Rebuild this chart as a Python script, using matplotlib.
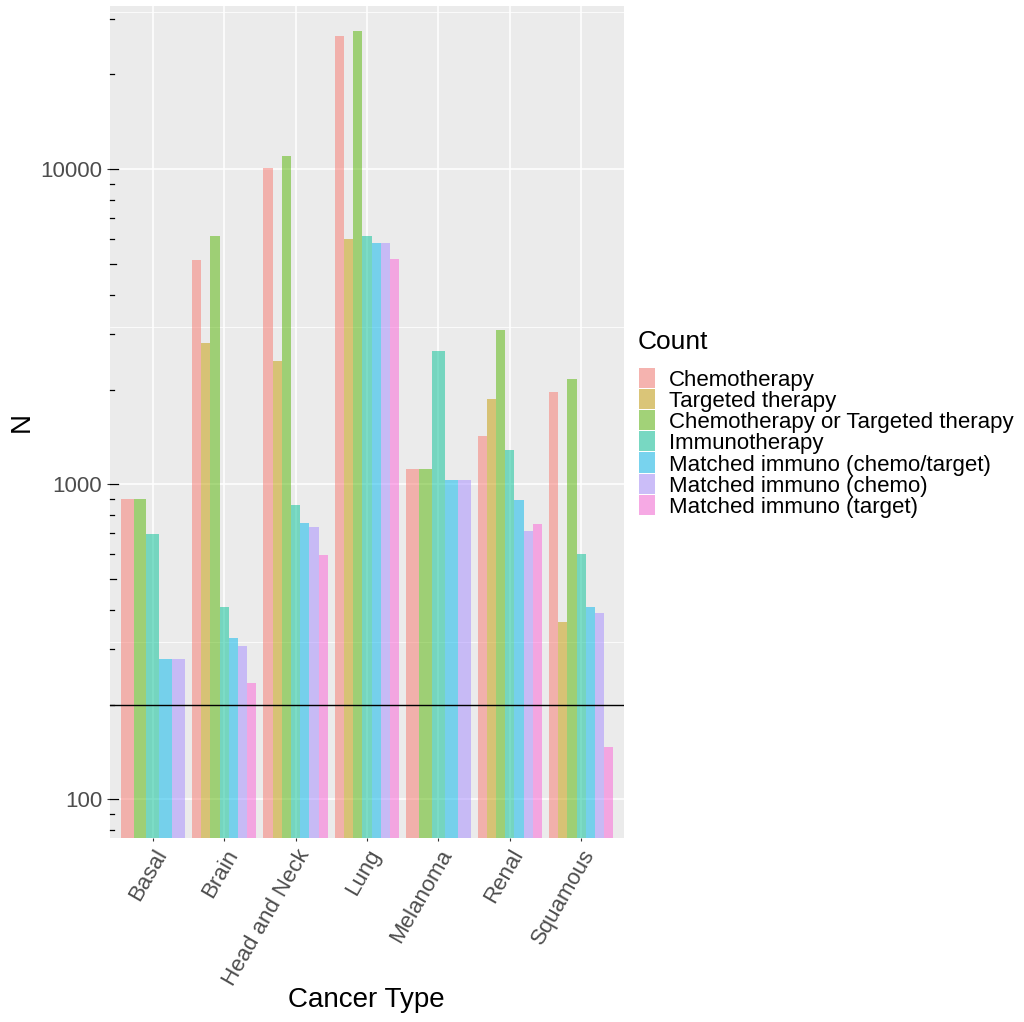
import matplotlib
matplotlib.use("Agg")
import matplotlib.pyplot as plt
import numpy as np
from matplotlib.patches import Rectangle
from matplotlib.transforms import blended_transform_factory

plt.rcParams['font.family'] = ['Liberation Sans', 'DejaVu Sans']

# data (None = bar absent for that cancer type)
cancer_types = ["Basal", "Brain", "Head and Neck", "Lung", "Melanoma", "Renal", "Squamous"]
series = ["Chemotherapy", "Targeted therapy", "Chemotherapy or Targeted therapy",
          "Immunotherapy", "Matched immuno (chemo/target)", "Matched immuno (chemo)",
          "Matched immuno (target)"]
chemo = [898, 5150, 10090, 26500, 1118, 1423, 1963]
targeted = [None, 2810, 2460, 6010, None, 1866, 366]
chemo_or_targeted = [898, 6140, 11010, 27470, 1118, 3090, 2159]
immuno = [695, 407, 859, 6140, 2650, 1285, 601]
matched_chemo_target = [279, 325, 753, 5840, 1032, 891, 407]
matched_chemo = [279, 307, 731, 5840, 1032, 711, 390]
matched_target = [None, 234, 597, 5190, None, 748, 147]
threshold = 200

values = [chemo, targeted, chemo_or_targeted, immuno,
          matched_chemo_target, matched_chemo, matched_target]
colors = ["#F8766D", "#C49A00", "#53B400", "#00C094", "#00B6EB", "#A58AFF", "#FB61D7"]

W, H = 1024, 1022
fig = plt.figure(figsize=(W / 100, H / 100), dpi=100)
ax = fig.add_axes([110 / W, 1 - 838 / H, (624 - 110) / W, (838 - 6) / H])
ax.set_facecolor("#EBEBEB")
ax.set_yscale("log")

# dodge: bars share 0.9 of the slot among the series present
for ci, ct in enumerate(cancer_types):
    present = [si for si in range(len(series)) if values[si][ci] is not None]
    w = 0.9 / len(present)
    for k, si in enumerate(present):
        x = ci - 0.45 + (k + 0.5) * w
        ax.bar(x, values[si][ci], width=w, color=colors[si], alpha=0.5,
               linewidth=0, zorder=2)

ax.axhline(threshold, color="black", linewidth=1.0, zorder=3)

ax.set_xlim(-0.6, len(cancer_types) - 0.4)
ax.set_ylim(75.4, 32990)

ax.set_yticks([100, 1000, 10000])
ax.set_yticklabels(["100", "1000", "10000"])
ax.yaxis.set_minor_locator(matplotlib.ticker.FixedLocator([10 ** 2.5, 10 ** 3.5, 10 ** 4.5]))
ax.yaxis.set_minor_formatter(matplotlib.ticker.NullFormatter())
ax.set_xticks(range(len(cancer_types)))
ax.set_xticklabels(cancer_types, rotation=60, ha="right", va="top",
                   rotation_mode="anchor")

ax.grid(True, which="major", color="white", linewidth=1.1, zorder=0)
ax.grid(True, which="minor", axis="y", color="white", linewidth=0.55, zorder=0)
ax.set_axisbelow(True)
for s in ax.spines.values():
    s.set_visible(False)

ax.tick_params(axis="both", which="major", length=2.5, width=0.8, color="#333333",
               labelsize=16, labelcolor="#4D4D4D", pad=3)
ax.tick_params(axis="y", which="minor", length=0)

# log ticks on the inside of the left edge
tr = blended_transform_factory(ax.transAxes, ax.transData)
for dec in [10, 100, 1000, 10000]:
    for m in range(1, 10):
        v = m * dec
        if v < 75.4 or v > 32990:
            continue
        if m == 1:
            ln = 8
        elif m == 5:
            ln = 5.5
        else:
            ln = 3.5
        ax.plot([0, ln / 514], [v, v], transform=tr, color="black",
                linewidth=0.9, clip_on=False, zorder=4)

fig.text(366 / W, 1 - 1000 / H, "Cancer Type", ha="center", va="center", fontsize=20)
fig.text(22 / W, 1 - 422 / H, "N", ha="center", va="center", fontsize=20, rotation=90)

# legend
fig.text(638 / W, 1 - 349 / H, "Count", ha="left", va="baseline", fontsize=19)
row = 21.2
top = 367.7
for i, name in enumerate(series):
    y0 = top + i * row
    fig.patches.append(Rectangle((639 / W, 1 - (y0 + row - 1) / H), 16 / W, (row - 1) / H,
                                 transform=fig.transFigure, facecolor="#F2F2F2",
                                 edgecolor="none"))
    fig.patches.append(Rectangle((639 / W, 1 - (y0 + row - 1) / H), 16 / W, (row - 1) / H,
                                 transform=fig.transFigure, facecolor=colors[i],
                                 alpha=0.5, edgecolor="none"))
    fig.text(669 / W, 1 - (y0 + row / 2 + 7.4) / H, name, ha="left", va="baseline",
             fontsize=16)

fig.savefig("out.png", dpi=100)
